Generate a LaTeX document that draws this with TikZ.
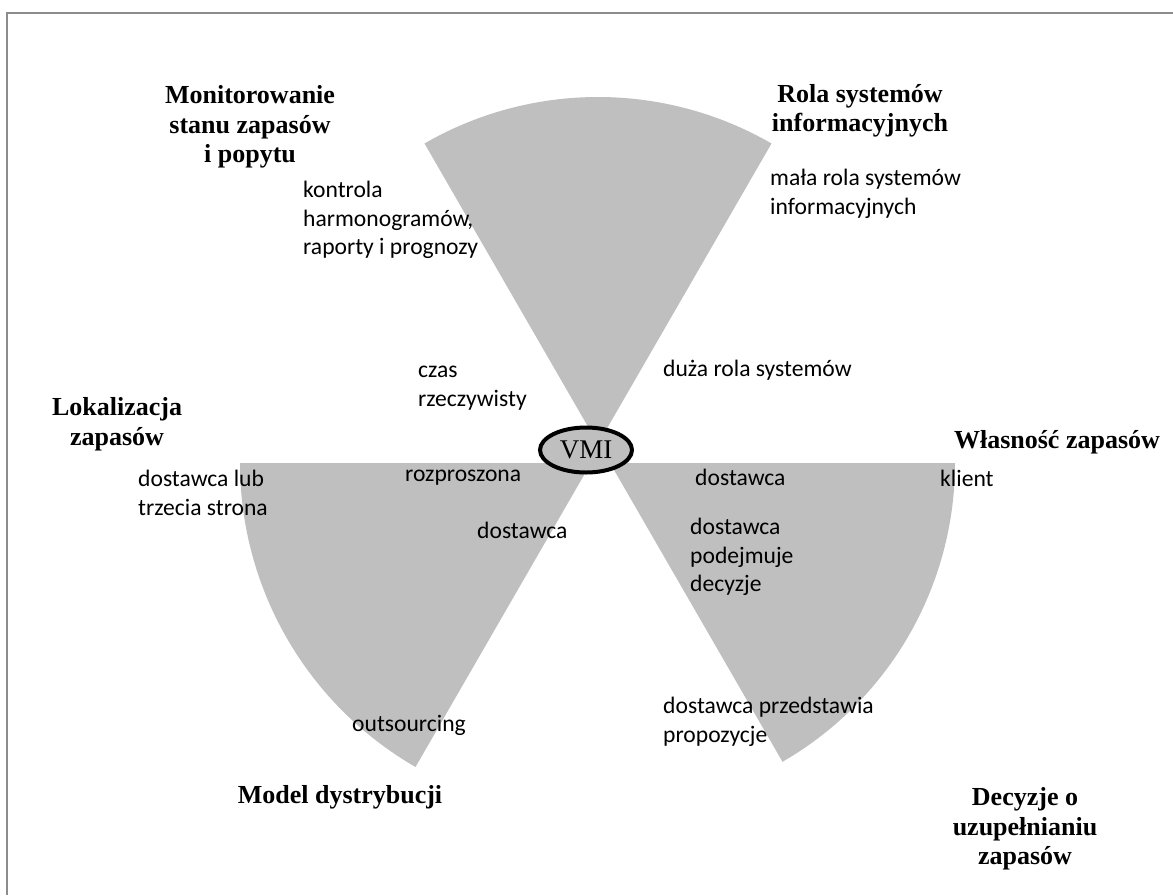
\documentclass[tikz,border=0pt]{standalone}
\usepackage{fontspec}
\setmainfont{Liberation Serif}
\newfontfamily\calibri{Carlito}
\usetikzlibrary{shapes.geometric}
\definecolor{sectorgray}{RGB}{191,191,191}
\definecolor{framegray}{RGB}{140,140,140}

\tikzset{
  sector/.style={fill=sectorgray},
  heading/.style={align=center, inner sep=0pt, font=\fontsize{26}{29.5}\selectfont\bfseries},
  option/.style={align=left, anchor=west, inner sep=0pt, font=\calibri\fontsize{23.6}{28.6}\selectfont},
  hub/.style={ellipse, draw=black, line width=4pt, fill=sectorgray, minimum width=92pt,
    minimum height=45pt, inner sep=0pt, font=\fontsize{27}{27}\selectfont}
}

\begin{document}
\begin{tikzpicture}[x=1pt,y=-1pt]
            \useasboundingbox (0,0) rectangle (1173,895);

            % Define the frame (only left and top edges are shown)
            \draw[framegray, line width=2pt] (7,895) -- (7,13) -- (1173,13);

            % Define the three sectors
            \fill[sector] (598,444) -- +(-60:347) arc[start angle=-60, end angle=-120, radius=347] -- cycle;
            \fill[sector] (591,463) -- +(180:351) arc[start angle=180, end angle=120, radius=351] -- cycle;
            \fill[sector] (610,463) -- +(0:345) arc[start angle=0, end angle=60, radius=345] -- cycle;

            % Define the hub
            \node[hub] (vmi) at (586,450) {VMI};

            % Add the headings
            \node[heading] (monitor) at (250,127) {Monitorowanie\\stanu zapasów\\i popytu};
            \node[heading] (systems) at (860,111) {Rola systemów\\informacyjnych};
            \node[heading] (location) at (117,424) {Lokalizacja\\zapasów};
            \node[heading] (ownership) at (1057,442) {Własność zapasów};
            \node[heading] (distribution) at (340,797) {Model dystrybucji};
            \node[heading] (replenish) at (1025,829) {Decyzje o\\uzupełnianiu\\zapasów};

            % Add the options of the top sector
            \node[option] (schedules) at (303,220) {kontrola\\harmonogramów,\\raporty i prognozy};
            \node[option] (realtime) at (418,388) {czas\\rzeczywisty};
            \node[option] (smallrole) at (770,194) {mała rola systemów\\informacyjnych};
            \node[option] (bigrole) at (663,370) {duża rola systemów};

            % Add the options of the bottom left sector
            \node[option] (thirdparty) at (138,493) {dostawca lub\\trzecia strona};
            \node[option] (dispersed) at (405,478) {rozproszona};
            \node[option] (supplierdist) at (477,530) {dostawca};
            \node[option] (outsourcing) at (352,725) {outsourcing};

            % Add the options of the bottom right sector
            \node[option] (supplierown) at (695,477) {dostawca};
            \node[option] (client) at (940,478) {klient};
            \node[option] (decides) at (690,557) {dostawca\\podejmuje\\decyzje};
            \node[option] (proposes) at (663,722) {dostawca przedstawia\\propozycje};

        \end{tikzpicture}
\end{document}
